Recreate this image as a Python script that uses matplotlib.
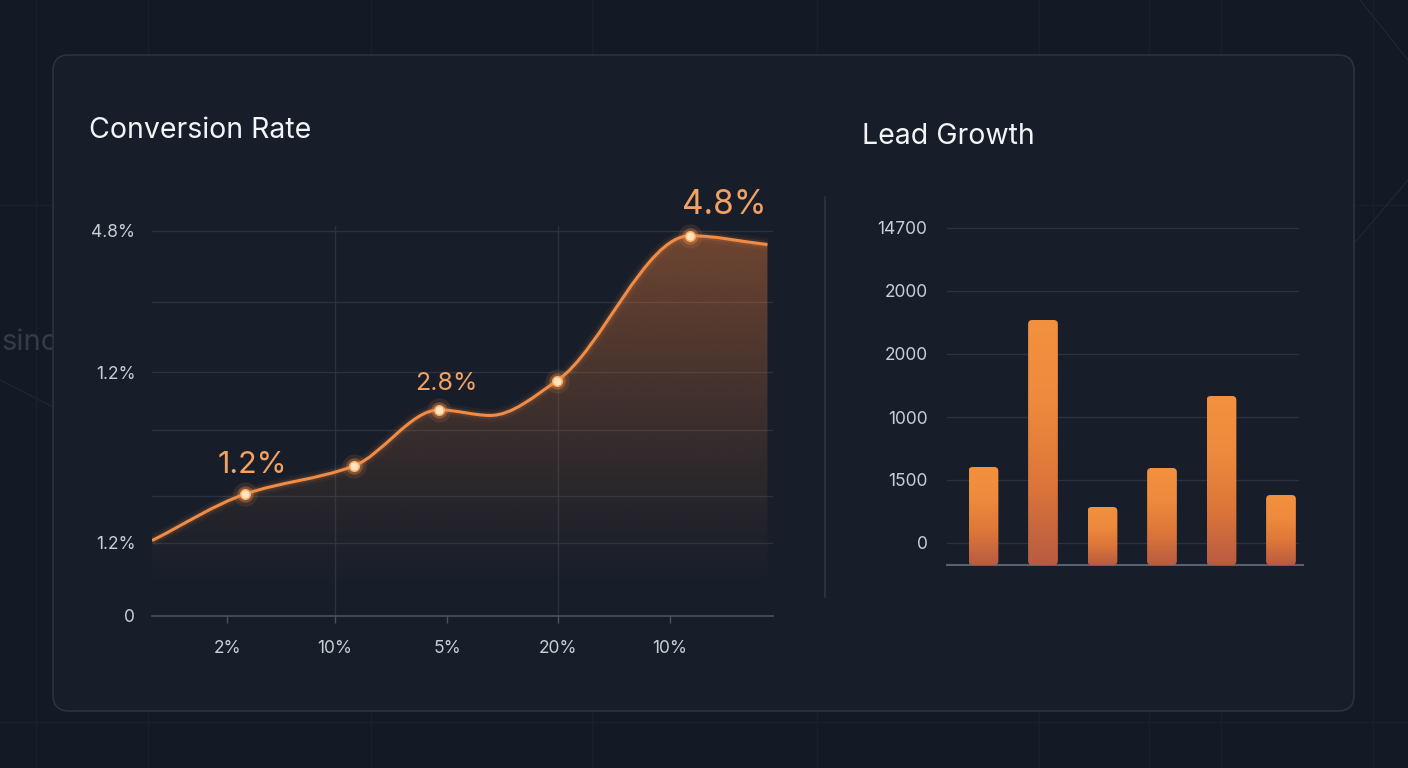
import numpy as np
import matplotlib.pyplot as plt
from matplotlib.patches import FancyBboxPatch, PathPatch
from matplotlib.path import Path
from matplotlib.colors import to_rgb, LinearSegmentedColormap

plt.rcParams['font.family'] = ['Inter', 'DejaVu Sans']

# Conversion Rate line (x in tick units, y in %)
conv_x = [-0.68, 0.16, 1.14, 1.91, 2.37, 2.97, 4.17, 4.87]
conv_y = [0.94, 1.52, 1.87, 2.57, 2.50, 2.93, 4.74, 4.63]
conv_marked = [False, True, True, True, False, True, True, False]
conv_labels = {1: '1.2%', 3: '2.8%', 6: '4.8%'}
conv_xticklabels = ['2%', '10%', '5%', '20%', '10%']
conv_yticks = [0, 0.91, 3.04, 4.8]
conv_yticklabels = ['0', '1.2%', '1.2%', '4.8%']
conv_grid = [0.91, 1.50, 2.32, 3.04, 3.92, 4.8]

# Lead Growth bars
lead_values = [4275, 10687, 2530, 4231, 7372, 3053]
lead_ticks = [960, 3708, 6455, 9204, 11952, 14700]
lead_ticklabels = ['0', '1500', '1000', '2000', '2000', '14700']

BG = '#131a25'
PANEL = '#171e2a'
GRID = '#2a3240'
TEXT = '#c9cdd4'
ORANGE = '#f08c45'
LABEL = '#f2a263'


def smooth_path(xs, ys):
    # monotone (Fritsch-Carlson) tangents, drawn as cubic bezier segments
    x = np.asarray(xs, float)
    y = np.asarray(ys, float)
    h = np.diff(x)
    d = np.diff(y) / h
    m = np.zeros(len(x))
    m[0], m[-1] = d[0], d[-1]
    for k in range(1, len(x) - 1):
        if d[k - 1] * d[k] > 0:
            w1 = 2 * h[k] + h[k - 1]
            w2 = h[k] + 2 * h[k - 1]
            m[k] = (w1 + w2) / (w1 / d[k - 1] + w2 / d[k])
    verts = [(x[0], y[0])]
    codes = [Path.MOVETO]
    for k in range(len(x) - 1):
        t = h[k] / 3
        verts += [(x[k] + t, y[k] + t * m[k]), (x[k + 1] - t, y[k + 1] - t * m[k + 1]), (x[k + 1], y[k + 1])]
        codes += [Path.CURVE4] * 3
    return verts, codes


fig = plt.figure(figsize=(14.08, 7.68), dpi=100, facecolor=BG)

# background decoration + panel in pixel coords
bg = fig.add_axes([0, 0, 1, 1])
bg.set_xlim(0, 1408)
bg.set_ylim(768, 0)
bg.axis('off')
for x in [36, 148, 371, 592, 817, 1039, 1149, 1221, 1373]:
    bg.plot([x, x], [0, 768], color='#19202b', lw=1, zorder=0)
for y in [205, 722]:
    bg.plot([0, 1408], [y, y], color='#19202b', lw=1, zorder=0)
bg.plot([0, 55], [380, 408], color='#1f2633', lw=1, zorder=0)
bg.plot([1360, 1408], [0, 60], color='#1f2633', lw=1, zorder=0)
bg.plot([1340, 1408], [260, 180], color='#1f2633', lw=1, zorder=0)
bg.text(1, 342, 'sino', fontsize=21, color='#343c4a', va='center', ha='left', zorder=0)
panel = FancyBboxPatch((53, 55), 1301, 656, boxstyle='round,pad=0,rounding_size=16',
                       facecolor=PANEL, edgecolor='#2b3341', lw=1.2, zorder=1)
bg.add_patch(panel)
bg.plot([825, 825], [197, 597], color='#2c3442', lw=1.2, zorder=2)
bg.text(89, 130, 'Conversion Rate', fontsize=20.5, color='#f2f4f7', va='center', ha='left', zorder=2)
bg.text(862, 136, 'Lead Growth', fontsize=20.5, color='#f2f4f7', va='center', ha='left', zorder=2)

# ---- Conversion Rate ----
ax = fig.add_axes([152 / 1408, 1 - 616 / 768, 621 / 1408, 426 / 768])
ax.set_facecolor('none')
ax.set_xlim(-0.68, 4.92)
ax.set_ylim(0, 5.31)
for g in conv_grid:
    ax.axhline(g, color=GRID, lw=1, zorder=1)
for t in [0.97, 2.98]:
    ax.axvline(t, ymax=0.915, color=GRID, lw=1, zorder=1)
for s in ['top', 'right', 'left']:
    ax.spines[s].set_visible(False)
ax.spines['bottom'].set_color('#4a5260')
ax.spines['bottom'].set_linewidth(1.2)

ax.set_xticks([0, 0.97, 1.98, 2.98, 3.99])
ax.set_xticklabels(conv_xticklabels)
ax.set_yticks(conv_yticks)
ax.set_yticklabels(conv_yticklabels)
ax.tick_params(axis='x', colors='#4a5260', length=5, width=1, labelcolor=TEXT, labelsize=12.5, pad=12)
ax.tick_params(axis='y', length=0, labelcolor=TEXT, labelsize=12.5, pad=12)

verts, codes = smooth_path(conv_x, conv_y)
fill_verts = verts + [(conv_x[-1], 0), (conv_x[0], 0), (conv_x[0], 0)]
fill_codes = codes + [Path.LINETO, Path.LINETO, Path.CLOSEPOLY]
area = PathPatch(Path(fill_verts, fill_codes), facecolor='none', edgecolor='none')
ax.add_patch(area)
grad = np.zeros((200, 2, 4))
grad[:, :, :3] = to_rgb('#e0783a')
alpha = np.clip((np.linspace(4.8, 0, 200) - 0.3) / 4.5, 0, 1) ** 1.2 * 0.45
grad[:, :, 3] = alpha[:, None]
im = ax.imshow(grad, extent=[-0.68, 4.92, 0, 4.8], aspect='auto', zorder=2, interpolation='bicubic')
im.set_clip_path(area)

line_path = Path(verts, codes)
for lw, a in [(9, 0.05), (5, 0.12)]:
    ax.add_patch(PathPatch(line_path, facecolor='none', edgecolor=ORANGE, lw=lw, alpha=a, zorder=3))
ax.add_patch(PathPatch(line_path, facecolor='none', edgecolor=ORANGE, lw=2.2, zorder=4))

mx = [x for x, m in zip(conv_x, conv_marked) if m]
my = [y for y, m in zip(conv_y, conv_marked) if m]
ax.scatter(mx, my, s=300, color=ORANGE, alpha=0.12, lw=0, zorder=5)
ax.scatter(mx, my, s=140, color=ORANGE, alpha=0.35, lw=0, zorder=5)
ax.scatter(mx, my, s=65, color='#f7ad66', lw=0, zorder=6)
ax.scatter(mx, my, s=34, color='#ffe4bc', lw=0, zorder=7)

label_style = {1: ((5, 21), 22), 3: ((5, 19), 18), 6: ((25, 22), 24)}
for i, txt in conv_labels.items():
    off, fs = label_style[i]
    ax.annotate(txt, (conv_x[i], conv_y[i]), xytext=off, textcoords='offset points',
                ha='center', va='center', fontsize=fs, color=LABEL, zorder=8,
                annotation_clip=False)

# ---- Lead Growth ----
ax2 = fig.add_axes([947 / 1408, 1 - 565 / 768, 356 / 1408, 350 / 768])
ax2.set_facecolor('none')
for t in lead_ticks:
    ax2.plot([-0.613, 5.29], [t, t], color=GRID, lw=1, zorder=1)
for s in ['top', 'right', 'left']:
    ax2.spines[s].set_visible(False)
ax2.spines['bottom'].set_color('#5a6270')
ax2.spines['bottom'].set_linewidth(1.5)
ax2.set_xticks([])
ax2.set_yticks(lead_ticks)
ax2.set_yticklabels(lead_ticklabels)
ax2.tick_params(axis='y', length=0, labelcolor=TEXT, labelsize=12.5, pad=14)

bar_cmap = LinearSegmentedColormap.from_list('bar', ['#b85c42', '#dd7639', '#ee8a3d', '#f2913f'])
bars = ax2.bar(range(len(lead_values)), lead_values, width=0.5, color='none', zorder=2)
ygrad = np.linspace(1, 0, 200)[:, None]
for b in bars:
    x0, w, h = b.get_x(), b.get_width(), b.get_height()
    shape = FancyBboxPatch((x0, 0), w, h, boxstyle='round,pad=0,rounding_size=0.07',
                           mutation_aspect=2570, facecolor='none', edgecolor='none')
    ax2.add_patch(shape)
    img = ax2.imshow(ygrad, extent=[x0, x0 + w, 0, h], cmap=bar_cmap, vmin=0, vmax=1,
                     aspect='auto', zorder=3)
    img.set_clip_path(shape)
ax2.set_xlim(-0.613, 5.37)
ax2.set_ylim(0, 15267)

fig.savefig('out.png', dpi=100, facecolor=BG)
